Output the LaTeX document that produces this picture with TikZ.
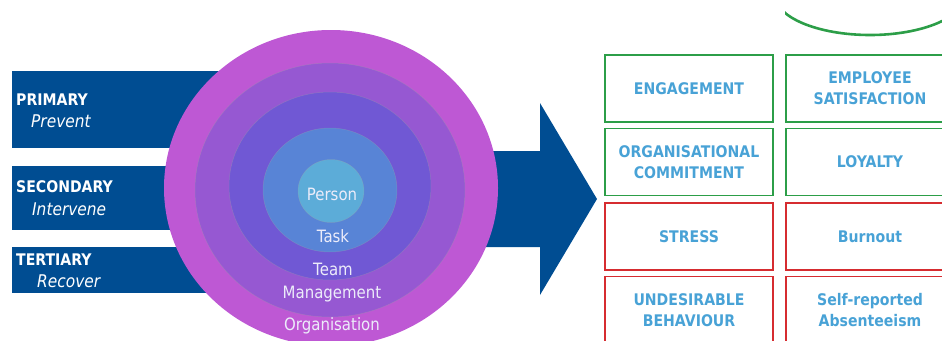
\documentclass[tikz,border=0pt]{standalone}
\usepackage{fontspec}
\setmainfont{DejaVu Sans}[FakeStretch=0.88]
\begin{document}
\definecolor{barblue}{RGB}{0,77,146}
\definecolor{ringorg}{RGB}{190,88,212}
\definecolor{ringmgmt}{RGB}{150,88,210}
\definecolor{ringteam}{RGB}{112,88,212}
\definecolor{ringtask}{RGB}{88,132,214}
\definecolor{ringperson}{RGB}{92,172,216}
\definecolor{ringtext}{RGB}{236,236,250}
\definecolor{outtext}{RGB}{72,162,214}
\definecolor{goodgreen}{RGB}{44,158,72}
\definecolor{badred}{RGB}{214,44,48}
\begin{tikzpicture}[x=1pt,y=-1pt,
  levelname/.style={anchor=west,inner sep=0pt,text=white,font=\fontsize{16}{18}\selectfont\bfseries},
  levelverb/.style={anchor=west,inner sep=0pt,text=white,font=\fontsize{17.5}{19}\selectfont\itshape},
  ringlabel/.style={inner sep=0pt,text=ringtext,font=\fontsize{17}{19}\selectfont},
  ringedge/.style={draw=black!35,draw opacity=0.35,line width=0.5pt},
  outcome/.style={draw=#1,line width=1.6pt,minimum width=168pt,minimum height=67pt,
    inner sep=0pt,align=center,text=outtext,font=\fontsize{16}{21}\selectfont\bfseries},
]
\useasboundingbox (0,0) rectangle (942,340);
\clip (0,0) rectangle (942,340);

% prevention level bars
\fill[barblue] (12,71) rectangle (300,148);
\fill[barblue] (12,166) rectangle (300,230);
\fill[barblue] (12,247) rectangle (300,293);

% outcome arrow
\fill[barblue] (330,151) -- (540,151) -- (540,103) -- (597,199)
  -- (540,295) -- (540,247) -- (330,247) -- cycle;

% nested levels
\fill[ringorg]    (331,188) ellipse [x radius=167pt, y radius=158pt];
\filldraw[ringmgmt,ringedge]   (330,190) ellipse [x radius=135pt, y radius=127pt];
\filldraw[ringteam,ringedge]   (330,186) ellipse [x radius=101pt, y radius=94pt];
\filldraw[ringtask,ringedge]   (330,190) ellipse [x radius=67pt, y radius=62pt];
\filldraw[ringperson,ringedge] (331,191) ellipse [x radius=33pt, y radius=31.5pt];

\node[ringlabel] (person) at (332,194) {Person};
\node[ringlabel] (task)   at (333,236) {Task};
\node[ringlabel] (team)   at (333,269) {Team};
\node[ringlabel] (mgmt)   at (332,294) {Management};
\node[ringlabel] (org)    at (332,326) {Organisation};

% level labels
\node[levelname] (primary)   at (16,100) {PRIMARY};
\node[levelverb] (prevent)   at (31,121) {Prevent};
\node[levelname] (secondary) at (16,187) {SECONDARY};
\node[levelverb] (intervene) at (32,209) {Intervene};
\node[levelname] (tertiary)  at (16,260) {TERTIARY};
\node[levelverb] (recover)   at (37,281) {Recover};

% outcome grid
\node[outcome=goodgreen] (engage)  at (689,88.5)  {ENGAGEMENT};
\node[outcome=goodgreen] (satisf)  at (870,88.5)  {EMPLOYEE\\SATISFACTION};
\node[outcome=goodgreen] (commit)  at (689,162)   {ORGANISATIONAL\\COMMITMENT};
\node[outcome=goodgreen] (loyal)   at (870,162)   {LOYALTY};
\node[outcome=badred]    (stress)  at (689,236.5) {STRESS};
\node[outcome=badred]    (burnout) at (870,236.5) {Burnout};
\node[outcome=badred]    (undes)   at (689,310)   {UNDESIRABLE\\BEHAVIOUR};
\node[outcome=badred]    (absent)  at (870,310)   {Self-reported\\Absenteeism};

% green arc above the grid
\begin{scope}
  \clip (785,0) rectangle (942,60);
  \draw[goodgreen,line width=2.6pt] (870,-5) ellipse [x radius=95pt, y radius=40pt];
\end{scope}
\end{tikzpicture}
\end{document}
